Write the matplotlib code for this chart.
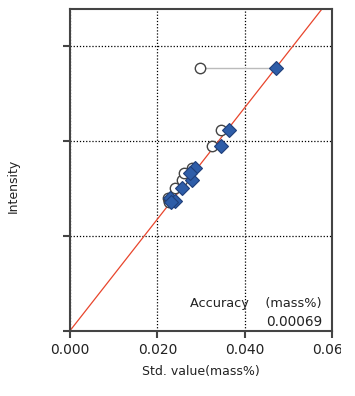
import matplotlib
matplotlib.use("Agg")
import matplotlib.pyplot as plt
from matplotlib.transforms import Bbox, TransformedBbox

# Data (std value in mass%, intensity in arbitrary units)
std_value = [0.0472, 0.0363, 0.0346, 0.0286, 0.0279, 0.0275, 0.0256, 0.0229, 0.0241, 0.0231]
intensity = [2.765, 2.116, 1.947, 1.713, 1.586, 1.666, 1.508, 1.403, 1.368, 1.351]
calc_value = [0.0298, 0.0346, 0.0326, 0.0279, 0.0257, 0.0262, 0.0241, 0.0224, 0.0227, 0.0226]
outlier_idx = [0]
x_ticks = [0.000, 0.020, 0.040, 0.060]
x_tick_labels = ["0.000", "0.020", "0.040", "0.060"]
y_ticks = [0, 1, 2, 3]
line_x = [0.0, 0.0577]
line_y = [0.0, 3.39]
accuracy = "0.00069"

fig = plt.figure(figsize=(3.55, 3.96), dpi=100)
ax = fig.add_axes([70/355, 1 - 330.7/396, (332-70)/355, (330.7-9)/396])

ax.set_xlim(0, 0.06)
ax.set_ylim(0, 3.39)

ax.set_xticks(x_ticks)
ax.set_xticklabels(x_tick_labels)
ax.set_yticks(y_ticks)
ax.set_yticklabels([])
ax.grid(True, color="black", linestyle=(0, (1, 1.5)), linewidth=0.9)
ax.set_axisbelow(True)

for s in ax.spines.values():
    s.set_color("#444444")
    s.set_linewidth(1.5)
ax.tick_params(axis="both", direction="out", length=5, width=1.5, color="#444444",
               labelsize=10, labelcolor="#222222")

# calibration line
ax.plot(line_x, line_y, color="#E8452C", linewidth=0.9, zorder=2)

# connectors for outliers
for i in outlier_idx:
    ax.plot([calc_value[i], std_value[i]], [intensity[i], intensity[i]],
            color="#BBBBBB", linewidth=1.0, zorder=2)

ax.plot(calc_value, intensity, linestyle="none", marker="o", markersize=7.5,
        markerfacecolor="white", markeredgecolor="#444444", markeredgewidth=1.0, zorder=3)
ax.plot(std_value, intensity, linestyle="none", marker="D", markersize=7,
        markerfacecolor="#2E5DA8", markeredgecolor="#1F3F7A", markeredgewidth=0.8, zorder=4)

ax.set_xlabel("Std. value(mass%)", fontsize=9, color="#222222", labelpad=6)
ax.set_ylabel("Intensity", fontsize=9, color="#222222")
ax.yaxis.set_label_coords(-0.19, 0.45)

fig.text(322/355, 1 - 304/396, "Accuracy    (mass%)", ha="right", va="center",
         fontsize=9.3, color="#222222")
fig.text(322/355, 1 - 322/396, accuracy, ha="right", va="center",
         fontsize=9.8, color="#222222")

fig.canvas.draw()
labels = ax.get_xticklabels()
clipbox = TransformedBbox(Bbox([[0, 0], [341/355, 1]]), fig.transFigure)
for lab in labels:
    lab.set_clip_box(clipbox)
    lab.set_clip_on(True)

fig.savefig("out.png", dpi=100)
